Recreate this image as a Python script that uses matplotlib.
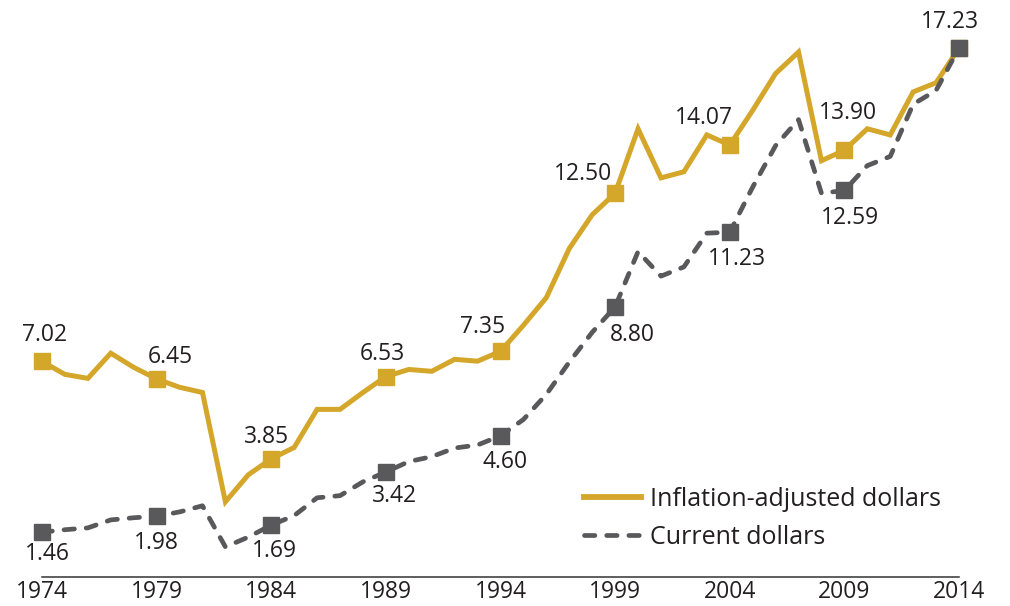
import matplotlib.pyplot as plt
import numpy as np

# ------------------------------------------------
# Data
# ------------------------------------------------
years = list(range(1974, 2015))

inflation_adj = [7.02, 6.60, 6.47, 7.29, 6.83, 6.45, 6.18, 6.01, 2.45, 3.33,
                 3.85, 4.22, 5.46, 5.46, 6.01, 6.53, 6.76, 6.70, 7.09, 7.03,
                 7.35, 8.20, 9.10, 10.70, 11.80, 12.50, 14.60, 13.00, 13.20, 14.40,
                 14.07, 15.20, 16.40, 17.10, 13.56, 13.90, 14.60, 14.40, 15.80, 16.10,
                 17.23]

current = [1.46, 1.54, 1.60, 1.86, 1.93, 1.98, 2.12, 2.32, 0.98, 1.30,
           1.69, 2.00, 2.58, 2.65, 3.10, 3.42, 3.76, 3.92, 4.20, 4.30,
           4.60, 5.13, 5.95, 7.00, 7.97, 8.80, 10.60, 9.80, 10.10, 11.20,
           11.23, 12.70, 14.05, 14.90, 12.50, 12.59, 13.40, 13.70, 15.40, 15.85,
           17.23]

marker_years = [1974, 1979, 1984, 1989, 1994, 1999, 2004, 2009, 2014]

# label offsets in pixels (dx, dy) relative to the marker
gold_offsets = {1974: (3, 26), 1979: (14, 22), 1984: (-5, 22), 1989: (-4, 23),
                1994: (-18, 24), 1999: (-32, 19), 2004: (-26, 27), 2009: (4, 37),
                2014: (-9, 26)}
gray_offsets = {1974: (5, -22), 1979: (0, -27), 1984: (3, -26), 1989: (9, -24),
                1994: (5, -26), 1999: (17, -28), 2004: (7, -27), 2009: (6, -28)}

GOLD = "#D4A62A"
GRAY = "#59595B"
TEXT = "#231F20"

plt.rcParams["font.family"] = ["Open Sans", "DejaVu Sans"]

fig = plt.figure(figsize=(10.10, 6.06), dpi=100)
ax = fig.add_axes([42 / 1010, 1 - 577 / 606, 917 / 1010, 577 / 606])

# Lines
ax.plot(years, inflation_adj, color=GOLD, lw=3.6, solid_joinstyle="miter",
        label="Inflation-adjusted dollars", clip_on=False, zorder=2)
ax.plot(years, current, color=GRAY, lw=3.4, dashes=(2.2, 2.5),
        dash_capstyle="round", label="Current dollars", clip_on=False, zorder=3)

# Square markers every 5 years
idx = [years.index(y) for y in marker_years]
ax.plot(marker_years, [inflation_adj[i] for i in idx], "s", color=GOLD,
        ms=12, ls="none", clip_on=False, zorder=4)
ax.plot(marker_years, [current[i] for i in idx], "s", color=GRAY,
        ms=12, ls="none", clip_on=False, zorder=5)

# Value labels
for y in marker_years:
    i = years.index(y)
    dx, dy = gold_offsets[y]
    ax.annotate(f"{inflation_adj[i]:.2f}", (y, inflation_adj[i]),
                xytext=(dx, dy), textcoords="offset pixels",
                ha="center", va="center", fontsize=16.5, color=TEXT,
                annotation_clip=False)
    if y in gray_offsets:
        dx, dy = gray_offsets[y]
        ax.annotate(f"{current[i]:.2f}", (y, current[i]),
                    xytext=(dx, dy), textcoords="offset pixels",
                    ha="center", va="center", fontsize=16.5, color=TEXT,
                    annotation_clip=False)

# Axes styling
ax.set_xlim(1974, 2014)
ax.set_ylim(0, 577 / 30.7)
for s in ["top", "right", "left"]:
    ax.spines[s].set_visible(False)
ax.spines["bottom"].set_color("#333333")
ax.spines["bottom"].set_linewidth(1.1)
ax.set_yticks([])
ax.set_xticks(marker_years)
ax.set_xticklabels([str(y) for y in marker_years])
ax.tick_params(axis="x", length=0, pad=2, labelsize=16.5, labelcolor=TEXT)

leg = ax.legend(loc="upper left", bbox_to_anchor=(584 / 1010, 1 - 487 / 606),
                bbox_transform=fig.transFigure, frameon=False, fontsize=18,
                handlelength=2.28, handletextpad=0.36, labelspacing=0.5,
                borderpad=0, borderaxespad=0, labelcolor=TEXT)
leg.get_lines()[0].set_linewidth(4.2)

fig.savefig("out.png", dpi=100)
